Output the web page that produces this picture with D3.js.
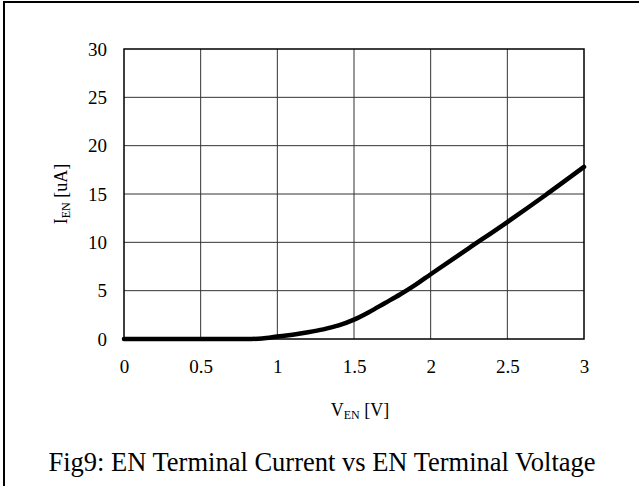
<!DOCTYPE html>
<html>
<head>
<meta charset="utf-8">
<script src="https://cdn.jsdelivr.net/npm/d3@7/dist/d3.min.js"></script>
<style>
  html, body { margin: 0; padding: 0; background: #fff; }
  svg { display: block; }
  text { font-family: "Liberation Serif", "Times New Roman", serif; fill: #000; }
</style>
</head>
<body>
<svg id="chart" width="639" height="486"></svg>
<script>
// EN terminal voltage (V) and current (uA)
const voltage = [0, 0.2, 0.4, 0.6, 0.8, 0.9, 1.0, 1.1, 1.2, 1.3, 1.4, 1.5, 1.6, 1.7, 1.8, 1.9, 2.0, 2.25, 2.5, 2.75, 3.0];
const current = [0, 0, 0, 0, 0, 0.05, 0.25, 0.45, 0.7, 1.0, 1.4, 2.0, 2.8, 3.7, 4.6, 5.6, 6.7, 9.4, 12.1, 14.9, 17.8];
const xTicks = [0, 0.5, 1, 1.5, 2, 2.5, 3];
const yTicks = [0, 5, 10, 15, 20, 25, 30];
const title = "Fig9: EN Terminal Current vs EN Terminal Voltage";

const svg = d3.select("#chart");
const plot = { left: 124, right: 584, top: 49, bottom: 339 };

const x = d3.scaleLinear().domain([0, 3]).range([plot.left, plot.right]);
const y = d3.scaleLinear().domain([0, 30]).range([plot.bottom, plot.top]);

// outer frame (top and left edges)
svg.append("path")
  .attr("d", "M4,640 L4,2 L700,2")
  .attr("fill", "none").attr("stroke", "#000").attr("stroke-width", 2);

// gridlines
const grid = svg.append("g");
grid.selectAll("line.v").data(xTicks.slice(1, -1)).join("line")
  .attr("x1", d => x(d)).attr("x2", d => x(d))
  .attr("y1", plot.top).attr("y2", plot.bottom)
  .attr("stroke", "#333").attr("stroke-width", 1);
grid.selectAll("line.h").data(yTicks.slice(1, -1)).join("line")
  .attr("x1", plot.left).attr("x2", plot.right)
  .attr("y1", d => y(d)).attr("y2", d => y(d))
  .attr("stroke", "#333").attr("stroke-width", 1);

// plot border
svg.append("rect")
  .attr("x", plot.left).attr("y", plot.top)
  .attr("width", plot.right - plot.left).attr("height", plot.bottom - plot.top)
  .attr("fill", "none").attr("stroke", "#000").attr("stroke-width", 1.5);

// axes (labels only)
const xAxis = svg.append("g")
  .attr("transform", `translate(0,${plot.bottom + 20})`)
  .call(d3.axisBottom(x).tickValues(xTicks).tickSize(0).tickPadding(0).tickFormat(d3.format("")));
const yAxis = svg.append("g")
  .attr("transform", `translate(${plot.left - 17},0)`)
  .call(d3.axisLeft(y).tickValues(yTicks).tickSize(0).tickPadding(0));
[xAxis, yAxis].forEach(a => {
  a.select(".domain").remove();
  a.selectAll("text").attr("font-size", 19).attr("font-family", "Liberation Serif");
});
xAxis.selectAll("text").attr("dy", "0.75em");

// curve
const line = d3.line()
  .x((d, i) => x(voltage[i]))
  .y(d => y(d))
  .curve(d3.curveMonotoneX);
svg.append("path")
  .datum(current)
  .attr("d", line)
  .attr("fill", "none").attr("stroke", "#000")
  .attr("stroke-width", 4.5).attr("stroke-linecap", "round").attr("stroke-linejoin", "round");

// axis titles
const xt = svg.append("text")
  .attr("x", 360).attr("y", 416)
  .attr("text-anchor", "middle").attr("font-size", 18);
xt.append("tspan").text("V");
xt.append("tspan").attr("font-size", 12).attr("dy", 3).text("EN");
xt.append("tspan").attr("dy", -3).text(" [V]");

const yt = svg.append("text")
  .attr("transform", `translate(67,${(plot.top + plot.bottom) / 2}) rotate(-90)`)
  .attr("text-anchor", "middle").attr("font-size", 18);
yt.append("tspan").text("I");
yt.append("tspan").attr("font-size", 12).attr("dy", 3).text("EN");
yt.append("tspan").attr("dy", -3).text(" [uA]");

// figure caption
svg.append("text")
  .attr("x", 322).attr("y", 471)
  .attr("text-anchor", "middle").attr("font-size", 26.5)
  .text(title);
</script>
</body>
</html>
